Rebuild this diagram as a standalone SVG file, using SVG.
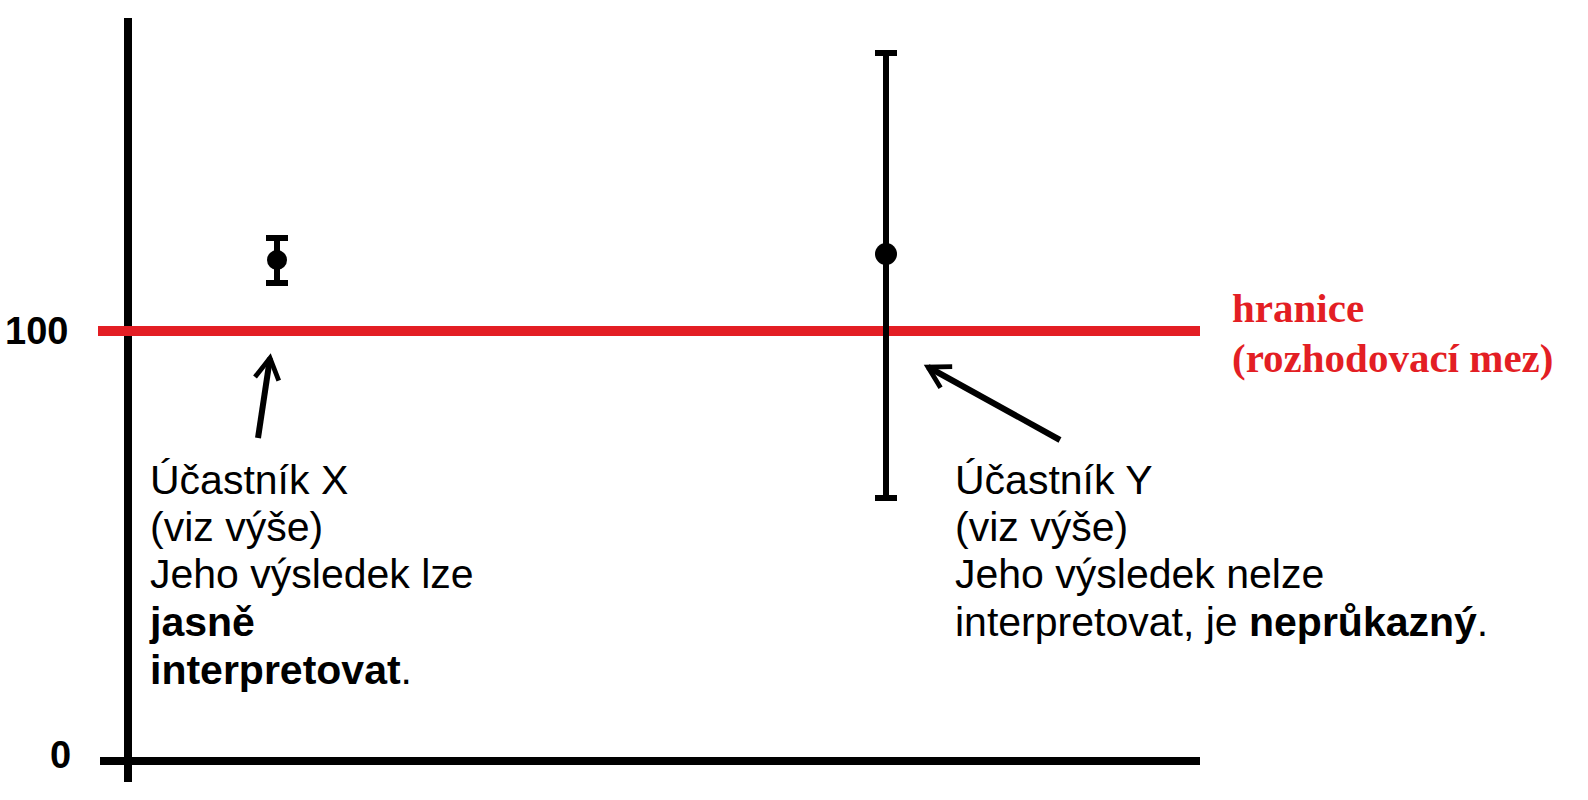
<svg xmlns="http://www.w3.org/2000/svg" width="1588" height="800" viewBox="0 0 1588 800">
<style>
.ax{stroke:#000;stroke-width:8;fill:none}
.eb{stroke:#000;stroke-width:6;fill:none}
.t{font-family:"Liberation Sans",Arial,sans-serif;font-size:41px;fill:#000}
.lab{font-family:"Liberation Sans",Arial,sans-serif;font-size:38px;font-weight:bold;fill:#000}
.red{font-family:"Liberation Serif","Times New Roman",serif;font-size:41px;font-weight:bold;fill:#e31e24}
</style>
<defs>
<marker id="ah" viewBox="0 0 10 10" refX="8" refY="5" markerWidth="5" markerHeight="5" orient="auto" markerUnits="strokeWidth">
<path d="M1,1 L8,5 L1,9" fill="none" stroke="#000" stroke-width="1.6"/>
</marker>
</defs>
<g id="axes">
<line class="ax" x1="128" y1="18" x2="128" y2="782"/>
<line class="ax" x1="100" y1="761" x2="1200" y2="761"/>
<text class="lab" x="5" y="344">100</text>
<text class="lab" x="50" y="768">0</text>
</g>
<g id="boundary">
<line x1="98" y1="331" x2="1200" y2="331" stroke="#e31e24" stroke-width="10"/>
<text class="red" x="1232" y="322">hranice</text>
<text class="red" x="1232" y="372">(rozhodovací mez)</text>
</g>
<g id="participantX">
<line class="eb" x1="277" y1="238" x2="277" y2="283"/>
<line class="eb" x1="266" y1="238" x2="288" y2="238"/>
<line class="eb" x1="266" y1="283" x2="288" y2="283"/>
<circle cx="277" cy="260" r="10"/>
<text class="t" x="150" y="494">Účastník X</text>
<text class="t" x="150" y="541">(viz výše)</text>
<text class="t" x="150" y="588">Jeho výsledek lze</text>
<text class="t" x="150" y="636" font-weight="bold">jasně</text>
<text class="t" x="150" y="684"><tspan font-weight="bold">interpretovat</tspan>.</text>
</g>
<g id="participantY">
<line class="eb" x1="886" y1="53" x2="886" y2="498"/>
<line class="eb" x1="875" y1="53" x2="897" y2="53"/>
<line class="eb" x1="875" y1="498" x2="897" y2="498"/>
<circle cx="886" cy="254" r="11"/>
<text class="t" x="955" y="494">Účastník Y</text>
<text class="t" x="955" y="541">(viz výše)</text>
<text class="t" x="955" y="588">Jeho výsledek nelze</text>
<text class="t" x="955" y="636">interpretovat, je <tspan font-weight="bold">neprůkazný</tspan>.</text>
</g>
<g id="connectors">
<line x1="258" y1="438" x2="270" y2="358" stroke="#000" stroke-width="6" marker-end="url(#ah)"/>
<line x1="1060" y1="440" x2="928" y2="367" stroke="#000" stroke-width="6" marker-end="url(#ah)"/>
</g>
</svg>
